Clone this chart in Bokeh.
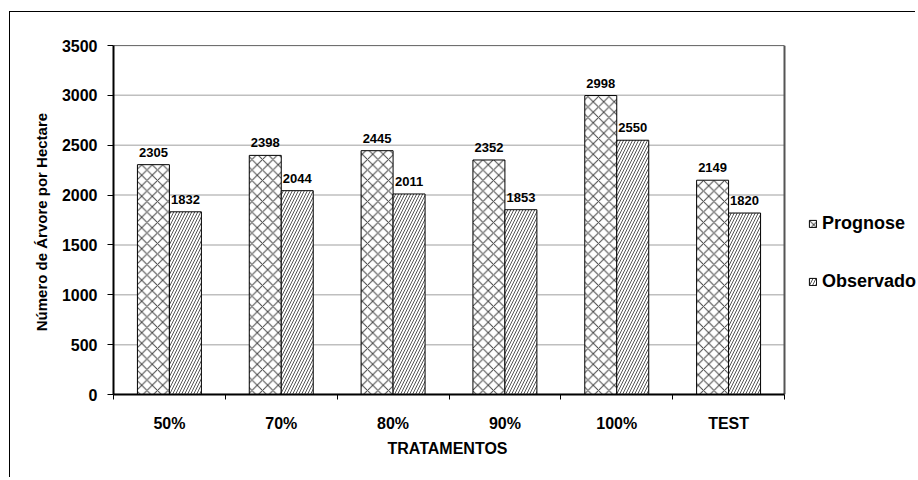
from bokeh.plotting import figure
from bokeh.models import (Range1d, FixedTicker, Legend, LegendItem, ColumnDataSource, Title)
from bokeh.core.properties import value
from bokeh.embed import file_html
from bokeh.resources import INLINE

categories = ["50%", "70%", "80%", "90%", "100%", "TEST"]
prognose = [2305, 2398, 2445, 2352, 2998, 2149]
observado = [1832, 2044, 2011, 1853, 2550, 1820]
y_ticks = [0, 500, 1000, 1500, 2000, 2500, 3000, 3500]

FONT = "Liberation Sans"
BW = 0.286
N = len(categories)
Y_MAX = y_ticks[-1]

# pixel geometry: plotting area 671 px wide inside a 803 px frame
PLOT_W = 671
FRAME_W = 803

centers = [i + 0.5 for i in range(N)]
src = ColumnDataSource(dict(
    xp=[c - BW / 2 for c in centers],
    xo=[c + BW / 2 for c in centers],
    prog=prognose,
    obs=observado,
    lp=[str(v) for v in prognose],
    lo=[str(v) for v in observado],
))

p = figure(width=906, height=466, output_backend="svg", toolbar_location=None,
           x_range=Range1d(0, N * FRAME_W / PLOT_W), y_range=Range1d(0, Y_MAX),
           min_border_left=103, min_border_right=0, min_border_top=33,
           min_border_bottom=84)
p.styles = {"border-left": "1px solid black", "border-top": "1px solid black",
            "margin-left": "9px", "margin-top": "11px"}
p.background_fill_color = "white"
p.border_fill_color = "white"
p.outline_line_color = None
p.xgrid.grid_line_color = None
p.ygrid.grid_line_color = None

# gridlines over the plotting area only
p.segment(x0=[0] * len(y_ticks), x1=[N] * len(y_ticks), y0=y_ticks, y1=y_ticks,
          line_color="#bfbfbf", line_width=1.5)
# plot area border (top and right)
p.segment(x0=[0], x1=[N], y0=[Y_MAX], y1=[Y_MAX], line_color="black", line_width=1)
p.segment(x0=[N], x1=[N], y0=[0], y1=[Y_MAX], line_color="#555555", line_width=2)

rp = p.vbar(x="xp", top="prog", width=BW, source=src, fill_color="white",
            line_color="black", line_width=1, hatch_pattern="diagonal_cross",
            hatch_scale=10.5, hatch_color="#444444", hatch_weight=1)
ro = p.vbar(x="xo", top="obs", width=BW, source=src, fill_color="white",
            line_color="black", line_width=1, hatch_pattern="right_diagonal_line",
            hatch_scale=6, hatch_color="#555555", hatch_weight=1)

p.text(x="xp", y="prog", text="lp", source=src, text_align="center",
       text_baseline="bottom", y_offset=-8, text_font=value(FONT),
       text_font_style="bold", text_font_size="13px", text_color="black")
p.text(x="xo", y="obs", text="lo", source=src, text_align="center",
       text_baseline="bottom", y_offset=-8, text_font=value(FONT),
       text_font_style="bold", text_font_size="13px", text_color="black")

# y axis
ya = p.yaxis[0]
ya.ticker = FixedTicker(ticks=y_ticks)
ya.axis_line_width = 2
ya.axis_line_color = "black"
ya.major_tick_in = 0
ya.major_tick_out = 6
ya.major_tick_line_color = "black"
ya.minor_tick_line_color = None
ya.major_label_standoff = 10
ya.major_label_text_font = FONT
ya.major_label_text_font_style = "bold"
ya.major_label_text_font_size = "16px"
ya.major_label_text_color = "black"
ya.axis_label = "Número de Árvore  por Hectare"
ya.axis_label_text_font = FONT
ya.axis_label_text_font_style = "bold"
ya.axis_label_text_font_size = "15px"
ya.axis_label_text_color = "black"
ya.axis_label_standoff = 9

# x axis: labels at centres, separator ticks at boundaries
xa = p.xaxis[0]
xa.bounds = (0, N)
xa.ticker = FixedTicker(ticks=centers, minor_ticks=list(range(N + 1)))
xa.major_label_overrides = {c: lab for c, lab in zip(centers, categories)}
xa.axis_line_width = 2
xa.axis_line_color = "black"
xa.major_tick_line_color = None
xa.major_tick_in = 0
xa.major_tick_out = 6
xa.minor_tick_in = 0
xa.minor_tick_out = 5
xa.minor_tick_line_color = "black"
xa.minor_tick_line_width = 1
xa.major_label_standoff = 14
xa.major_label_text_font = FONT
xa.major_label_text_font_style = "bold"
xa.major_label_text_font_size = "16px"
xa.major_label_text_color = "black"

# x title centred under the plotting area (not the whole frame)
xt = Title(text="TRATAMENTOS", align="left", offset=274, standoff=6,
           text_font=FONT, text_font_style="bold", text_font_size="16px",
           text_color="black")
p.add_layout(xt, "below")

legend = Legend(items=[LegendItem(label="Prognose", renderers=[rp]),
                       LegendItem(label="Observado", renderers=[ro])],
                location=(695, 102), orientation="vertical",
                glyph_width=9, glyph_height=9, label_standoff=5,
                label_height=20, spacing=37, padding=0, margin=0,
                border_line_color=None, background_fill_alpha=0,
                label_text_font=FONT, label_text_font_style="bold",
                label_text_font_size="18px", label_text_color="black")
p.add_layout(legend, "center")

open("out.html", "w").write(file_html(p, INLINE))
